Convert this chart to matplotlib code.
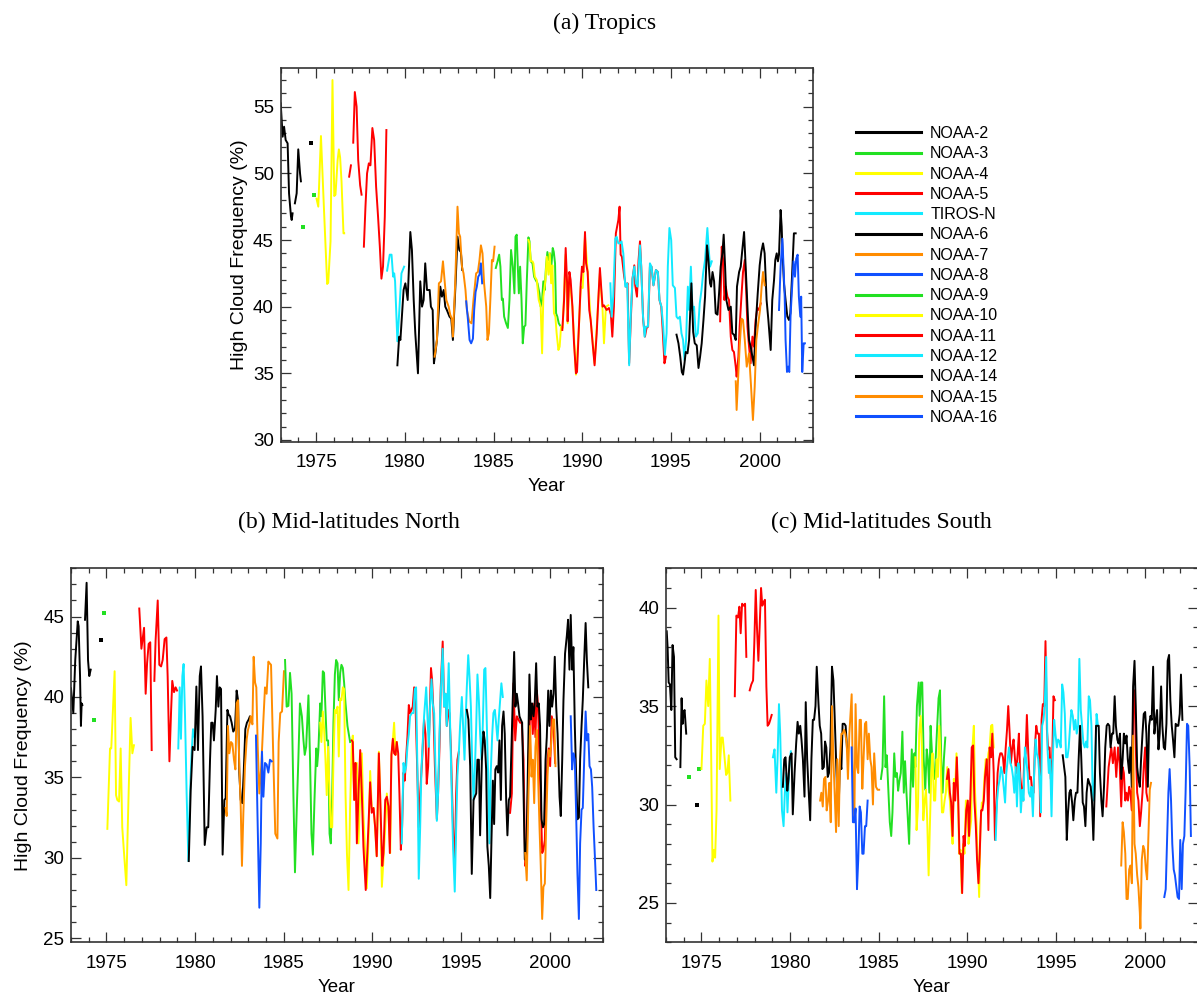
import numpy as np
import matplotlib
matplotlib.use("Agg")
import matplotlib.pyplot as plt
from matplotlib.lines import Line2D
from matplotlib.ticker import MultipleLocator

plt.rcParams['font.family'] = ['Liberation Sans', 'DejaVu Sans']

# satellite names (legend order) and their colours
sats = ["NOAA-2", "NOAA-3", "NOAA-4", "NOAA-5", "TIROS-N", "NOAA-6", "NOAA-7", "NOAA-8",
        "NOAA-9", "NOAA-10", "NOAA-11", "NOAA-12", "NOAA-14", "NOAA-15", "NOAA-16"]
colors = ["black", "#22e022", "#ffff00", "#ff0000", "#12eaff", "black", "#ff8c00", "#1050ff",
          "#22e022", "#ffff00", "#ff0000", "#12eaff", "black", "#ff8c00", "#1050ff"]

# (year, high cloud frequency %), None = gap in the record
# ---------------- (a) Tropics ----------------
a_n2 = [(1973.0, 55.25), (1973.11, 52.75), (1973.19, 53.5), (1973.28, 52.5), (1973.39, 52.25),
        (1973.47, 48.5), (1973.58, 46.75), (1973.62, 46.5), (1973.67, 47.0), None,
        (1973.8, 47.75), (1973.9, 48.5), (1973.99, 51.8), (1974.09, 50.0), (1974.14, 49.4), None,
        (1974.71, 52.25)]
a_n3 = [(1974.27, 45.95), None, (1974.87, 48.4)]
a_n4 = [(1975.02, 48.1), (1975.12, 47.5), (1975.27, 52.8), (1975.45, 47.0), (1975.62, 41.7),
        (1975.68, 41.8), (1975.81, 44.9), (1975.92, 57.0), (1976.02, 48.3), (1976.09, 48.4),
        (1976.21, 51.0), (1976.28, 51.8), (1976.35, 51.2), (1976.43, 49.4), (1976.54, 45.5),
        (1976.58, 45.5)]
a_n5 = [(1976.86, 49.75), (1976.96, 50.6), None, (1977.09, 52.3), (1977.18, 56.1), (1977.28, 55.0),
        (1977.37, 51.0), (1977.48, 49.1), (1977.56, 48.4), None, (1977.69, 44.5), (1977.78, 47.5),
        (1977.87, 50.0), (1977.97, 50.75), (1978.06, 50.6), (1978.17, 53.4), (1978.27, 52.5),
        (1978.38, 49.0), (1978.49, 46.75), (1978.59, 44.5), (1978.68, 42.1), (1978.77, 43.0),
        (1978.87, 46.75), (1978.96, 53.25)]
a_tn = [(1979.0, 42.7), (1979.15, 43.9), (1979.25, 43.9), (1979.34, 42.25), (1979.4, 42.5),
        (1979.45, 41.9), (1979.58, 37.4), (1979.68, 39.5), (1979.81, 42.5), (1979.96, 43.0)]
a_n6 = [(1979.58, 35.6), (1979.68, 37.75), (1979.75, 37.5), (1979.93, 41.25), (1980.03, 41.75),
        (1980.16, 40.5), (1980.31, 45.6), (1980.4, 44.25), (1980.5, 40.5), (1980.59, 38.0),
        (1980.74, 35.0), (1980.87, 41.9), (1980.97, 40.0), (1981.06, 40.5), (1981.15, 43.25),
        (1981.25, 41.25), (1981.4, 41.25), (1981.47, 40.0), (1981.57, 39.75), (1981.64, 35.75),
        (1981.72, 36.5), (1981.81, 37.5), (1982.0, 41.5), (1982.09, 40.75), (1982.19, 41.25),
        (1982.28, 40.0), (1982.37, 39.75), (1982.52, 39.25), (1982.62, 39.1), (1982.71, 37.5),
        (1982.86, 41.75), (1982.97, 45.25), (1983.07, 44.25), (1983.16, 44.1), (1983.24, 42.75)]
a_n7 = [(1981.68, 36.25), (1981.81, 37.5), (1981.92, 41.75), (1982.04, 41.9), (1982.15, 43.4),
        (1982.24, 42.0), (1982.34, 40.5), (1982.47, 40.0), (1982.56, 39.4), (1982.65, 39.1),
        (1982.71, 37.75), (1982.84, 41.75), (1982.97, 47.5), (1983.05, 45.5), (1983.12, 45.25),
        (1983.22, 43.0), (1983.31, 42.5), (1983.42, 41.25), (1983.5, 39.75), (1983.63, 38.9),
        (1983.76, 38.75), (1983.87, 40.5), (1984.02, 42.5), (1984.12, 42.6), (1984.21, 43.5),
        (1984.29, 44.6), (1984.38, 44.0), (1984.47, 41.75), (1984.59, 40.0), (1984.66, 37.5),
        (1984.74, 38.0), (1984.83, 40.75), (1984.91, 43.5), (1984.98, 43.4), (1985.06, 44.5)]
a_n8 = [(1983.46, 40.4), (1983.56, 39.0), (1983.65, 37.5), (1983.74, 37.25), (1983.84, 37.6),
        (1983.91, 39.75), (1983.99, 41.1), (1984.06, 41.5), (1984.14, 42.25), (1984.21, 42.4),
        (1984.29, 43.25), (1984.36, 41.75)]
a_n9 = [(1985.13, 42.9), (1985.23, 43.4), (1985.32, 43.9), (1985.39, 43.0), (1985.47, 40.5),
        (1985.53, 40.6), (1985.6, 39.25), (1985.71, 38.75), (1985.81, 38.4), (1985.9, 40.5),
        (1985.99, 44.25), (1986.09, 43.0), (1986.18, 41.0), (1986.24, 45.25), (1986.31, 45.4),
        (1986.37, 43.0), (1986.43, 41.0), (1986.5, 43.0), (1986.58, 40.5), (1986.65, 37.25),
        (1986.73, 38.5), (1986.8, 38.6), (1986.88, 42.0), (1986.97, 45.2), (1987.03, 44.9),
        (1987.1, 43.4), (1987.2, 43.25), (1987.29, 42.25), (1987.38, 42.0), (1987.48, 41.75),
        (1987.59, 41.0), (1987.66, 40.0), (1987.74, 40.5), (1987.81, 41.9), (1987.89, 41.25),
        (1987.96, 43.0), (1988.04, 44.1), (1988.11, 43.5), (1988.19, 44.0), (1988.26, 43.0),
        (1988.34, 44.4), (1988.4, 44.1), (1988.47, 43.25), (1988.53, 39.5), (1988.6, 39.25),
        (1988.68, 38.75), (1988.75, 38.6)]
a_n10 = [(1986.97, 45.0), (1987.03, 44.75), (1987.1, 43.4), (1987.2, 43.4), (1987.25, 43.25),
         (1987.33, 42.25), (1987.44, 42.0), (1987.55, 40.5), (1987.66, 40.0), (1987.74, 36.5),
         (1987.81, 40.75), (1987.93, 42.0), (1988.0, 43.75), (1988.1, 42.4), (1988.17, 44.0),
         (1988.25, 41.75), (1988.32, 43.1), (1988.41, 39.5), (1988.49, 39.25), (1988.56, 38.0),
         (1988.66, 36.75), (1988.73, 37.0), (1988.81, 38.5), (1988.9, 38.4), (1989.07, 43.9),
         (1989.18, 38.75), (1989.28, 42.25), (1989.45, 40.0), (1989.65, 34.9), (1989.8, 38.0),
         (1989.92, 41.5), (1990.03, 41.4), (1990.16, 45.25), (1990.31, 42.6), (1990.48, 39.0),
         (1990.7, 35.75), (1990.91, 40.5), (1991.0, 42.5), (1991.15, 39.75), (1991.23, 37.25),
         (1991.34, 40.0), (1991.47, 40.1)]
a_n11 = [(1988.88, 38.25), (1988.98, 40.5), (1989.07, 44.4), (1989.15, 41.75), (1989.18, 38.9),
         (1989.28, 42.6), (1989.35, 42.0), (1989.45, 40.0), (1989.54, 37.25), (1989.65, 35.0),
         (1989.71, 35.1), (1989.8, 38.0), (1989.92, 41.75), (1989.99, 43.0), (1990.07, 42.6),
         (1990.16, 45.6), (1990.22, 43.25), (1990.31, 42.6), (1990.4, 39.75), (1990.48, 39.0),
         (1990.59, 37.25), (1990.7, 35.6), (1990.82, 38.0), (1990.91, 40.5), (1991.0, 42.9),
         (1991.07, 41.5), (1991.15, 40.0), (1991.23, 40.1), (1991.38, 39.75), (1991.51, 39.9),
         (1991.62, 39.4), (1991.7, 37.75), (1991.79, 40.0), (1991.9, 45.5), (1992.04, 46.5),
         (1992.11, 47.5), (1992.17, 43.9), (1992.24, 43.75), (1992.37, 42.25), (1992.47, 41.5),
         (1992.56, 41.75), (1992.65, 35.75), (1992.75, 39.25), (1992.84, 42.1), (1992.94, 43.1),
         (1992.99, 41.6), (1993.09, 40.75), (1993.18, 43.5), (1993.26, 44.9), (1993.33, 43.0),
         (1993.44, 39.0), (1993.54, 37.75), (1993.63, 38.4), (1993.72, 38.5), (1993.82, 43.0),
         (1993.91, 43.0), (1994.02, 41.6), (1994.16, 42.75), (1994.27, 42.6), (1994.36, 40.5),
         (1994.46, 40.0), (1994.53, 38.5), (1994.64, 35.75), (1994.72, 36.25), None,
         (1997.78, 38.9), (1997.87, 44.5), (1997.95, 43.5), (1998.02, 40.5), (1998.1, 41.5),
         (1998.19, 40.75), (1998.28, 40.5), (1998.38, 37.75), (1998.47, 36.75), (1998.56, 36.6),
         (1998.66, 35.5), (1998.71, 34.75), (1998.81, 36.25), (1998.88, 38.5), (1998.98, 40.75),
         (1999.07, 42.6), (1999.17, 43.5), (1999.24, 41.5), (1999.32, 38.5), (1999.41, 37.0),
         (1999.5, 35.75), (1999.6, 37.75), (1999.69, 37.0), (1999.78, 39.0), (1999.88, 39.9),
         (1999.97, 39.75), (2000.07, 40.25)]
a_n12 = [(1991.59, 41.75), (1991.66, 39.25), (1991.75, 40.75), (1991.87, 45.1), (1991.94, 45.25),
         (1992.04, 44.75), (1992.13, 44.75), (1992.22, 44.9), (1992.32, 44.0), (1992.43, 41.5),
         (1992.54, 41.75), (1992.65, 35.6), (1992.75, 39.75), (1992.84, 42.1), (1992.94, 43.0),
         (1993.03, 41.75), (1993.12, 41.5), (1993.26, 44.6), (1993.33, 43.0), (1993.42, 39.5),
         (1993.52, 37.75), (1993.59, 38.5), (1993.71, 38.5), (1993.82, 43.25), (1993.91, 43.0),
         (1994.02, 41.6), (1994.16, 42.75), (1994.27, 42.6), (1994.36, 40.5), (1994.47, 40.0),
         (1994.57, 38.5), (1994.66, 36.4), (1994.76, 38.0), (1994.83, 43.0), (1994.92, 45.9),
         (1995.02, 45.0), (1995.11, 41.6), (1995.23, 41.4), (1995.32, 39.25), (1995.41, 39.1),
         (1995.51, 39.25), (1995.6, 38.0), (1995.69, 37.5), (1995.77, 36.0), (1995.86, 37.5),
         (1995.96, 41.5), (1996.03, 39.75), (1996.13, 43.0), (1996.22, 39.75), (1996.31, 40.0),
         (1996.41, 37.75), (1996.52, 38.0), (1996.63, 40.25), (1996.73, 41.25), (1996.82, 42.5),
         (1996.93, 43.5), (1997.06, 45.9), (1997.14, 44.25), (1997.21, 43.0), (1997.31, 43.4)]
a_n14 = [(1995.32, 37.9), (1995.43, 37.25), (1995.53, 36.25), (1995.62, 35.1), (1995.69, 34.9),
         (1995.77, 35.75), (1995.84, 36.6), (1995.94, 36.5), (1996.03, 37.5), (1996.16, 41.75),
         (1996.26, 38.1), (1996.35, 37.25), (1996.46, 37.1), (1996.56, 35.4), (1996.65, 36.25),
         (1996.74, 37.25), (1996.84, 39.0), (1996.93, 40.75), (1997.04, 44.6), (1997.12, 43.5),
         (1997.21, 41.75), (1997.27, 41.5), (1997.35, 42.6), (1997.44, 41.9), (1997.53, 39.5),
         (1997.63, 39.4), (1997.72, 41.0), (1997.81, 43.0), (1997.91, 44.0), (1997.98, 45.4),
         (1998.06, 43.0), (1998.13, 40.5), (1998.25, 39.75), (1998.38, 40.0), (1998.47, 38.0),
         (1998.56, 37.9), (1998.66, 37.5), (1998.73, 41.5), (1998.85, 42.6), (1998.94, 43.0),
         (1999.03, 44.25), (1999.13, 45.6), (1999.22, 43.0), (1999.32, 40.0), (1999.41, 37.5),
         (1999.5, 37.0), (1999.6, 36.25), (1999.69, 35.6), (1999.78, 38.5), (1999.9, 41.0),
         (2000.01, 43.1), (2000.1, 44.1), (2000.2, 44.75), (2000.29, 44.0), (2000.4, 40.5),
         (2000.5, 39.0), (2000.63, 36.75), (2000.72, 40.5), (2000.82, 42.0), (2000.89, 43.5),
         (2000.97, 44.0), (2001.04, 43.4), (2001.1, 43.9), (2001.19, 47.25), (2001.25, 46.0),
         (2001.3, 44.0), (2001.38, 41.75), (2001.47, 40.5), (2001.57, 39.25), (2001.66, 39.0),
         (2001.74, 39.5), (2001.85, 42.75), (2001.94, 45.5), (2002.04, 45.5)]
a_n15 = [(1998.66, 34.4), (1998.71, 32.25), (1998.79, 34.5), (1998.88, 37.0), (1998.98, 39.1),
         (1999.07, 39.0), (1999.17, 37.5), (1999.28, 35.5), (1999.41, 36.5), (1999.52, 34.1),
         (1999.63, 31.5), (1999.73, 34.0), (1999.82, 37.5), (1999.93, 38.75), (2000.03, 39.75),
         (2000.12, 41.5), (2000.2, 42.6), (2000.29, 41.6)]
a_n16 = [(2001.1, 39.75), (2001.19, 43.0), (2001.29, 45.1), (2001.34, 43.5), (2001.42, 40.75),
         (2001.47, 37.5), (2001.55, 35.1), (2001.62, 35.5), (2001.68, 35.1), (2001.75, 39.25),
         (2001.85, 41.75), (2001.92, 43.4), (2002.0, 42.25), (2002.07, 43.6), (2002.15, 43.9),
         (2002.22, 40.75), (2002.3, 39.25), (2002.35, 40.75), (2002.41, 35.1), (2002.49, 37.25),
         (2002.56, 37.25)]

# ---------------- (b) Mid-latitudes North ----------------
b_n2 = [(1973.0, 40.54), (1973.13, 39.0), (1973.24, 42.3), (1973.38, 44.7), (1973.43, 44.4),
        (1973.51, 41.3), (1973.56, 38.2), (1973.6, 39.6), (1973.64, 39.5), None,
        (1973.79, 44.8), (1973.88, 47.1), (1973.96, 42.3), (1974.03, 41.3), (1974.11, 41.7), None,
        (1974.71, 43.55)]
b_n3 = [(1974.3, 38.6), None, (1974.88, 45.2)]
b_n4 = [(1975.05, 31.8), (1975.2, 36.8), (1975.27, 36.8), (1975.46, 41.6), (1975.54, 33.9),
        (1975.61, 33.6), (1975.71, 33.5), (1975.8, 36.8), (1975.89, 31.9), (1975.99, 30.3),
        (1976.12, 28.3), (1976.23, 33.2), (1976.36, 38.7), (1976.46, 36.5), (1976.55, 37.0)]
b_n5 = [(1976.85, 45.5), (1976.97, 43.0), (1977.12, 44.3), (1977.21, 40.2), (1977.29, 42.1),
        (1977.38, 43.3), (1977.47, 43.4), (1977.55, 36.7), None, (1977.7, 41.0), (1977.77, 43.5),
        (1977.89, 46.0), (1977.98, 42.0), (1978.08, 41.9), (1978.17, 42.3), (1978.28, 43.6),
        (1978.38, 43.7), (1978.45, 41.3), (1978.55, 36.0), (1978.64, 39.0), (1978.71, 41.0),
        (1978.81, 40.3), (1978.9, 40.6), (1978.98, 40.4)]
b_tn = [(1979.05, 36.8), (1979.13, 40.6), (1979.2, 37.4), (1979.28, 41.3), (1979.35, 42.05),
        (1979.43, 38.8), (1979.52, 34.0), (1979.62, 29.8), (1979.71, 34.0), (1979.8, 36.5),
        (1979.88, 38.0), (1979.97, 37.5)]
b_n6 = [(1979.64, 29.8), (1979.75, 34.2), (1979.86, 36.9), (1979.97, 36.7), (1980.07, 40.65),
        (1980.16, 36.7), (1980.26, 41.3), (1980.33, 41.9), (1980.42, 38.8), (1980.54, 30.8),
        (1980.65, 31.9), (1980.74, 31.9), (1980.84, 36.1), (1980.91, 38.4), (1980.99, 38.4),
        (1981.06, 37.3), (1981.16, 39.2), (1981.23, 41.3), (1981.31, 39.4), (1981.38, 40.6),
        (1981.46, 40.5), (1981.55, 30.2), (1981.65, 33.6), (1981.72, 33.7), (1981.82, 39.2),
        (1981.89, 38.9), (1981.97, 38.8), (1982.06, 38.4), (1982.15, 37.85), (1982.25, 38.05),
        (1982.34, 40.4), (1982.42, 39.8), (1982.49, 35.3), (1982.57, 33.6), (1982.66, 33.4),
        (1982.74, 35.3), (1982.83, 38.0), (1982.92, 38.4), (1983.02, 38.6), (1983.09, 38.8),
        (1983.19, 38.4)]
b_n7 = [(1981.72, 33.1), (1981.78, 32.6), (1981.85, 38.2), (1981.93, 36.5), (1982.02, 37.2),
        (1982.1, 37.1), (1982.19, 36.1), (1982.27, 35.5), (1982.34, 39.6), (1982.42, 39.8),
        (1982.49, 35.7), (1982.57, 33.2), (1982.64, 29.5), (1982.72, 32.8), (1982.81, 35.7),
        (1982.91, 37.4), (1982.98, 37.95), (1983.06, 38.3), (1983.13, 38.8), (1983.23, 38.3),
        (1983.3, 42.5), (1983.38, 40.9), (1983.45, 40.6), (1983.53, 36.9), (1983.62, 34.0),
        (1983.73, 35.7), (1983.85, 38.6), (1983.94, 40.6), (1984.03, 40.2), (1984.13, 42.2),
        (1984.2, 42.1), (1984.28, 42.0), (1984.41, 36.1), (1984.52, 31.5), (1984.64, 31.2),
        (1984.71, 37.2), (1984.8, 39.0), (1984.9, 39.1), (1985.01, 41.6)]
b_n8 = [(1983.43, 37.6), (1983.51, 33.0), (1983.62, 26.9), (1983.7, 30.9), (1983.77, 36.6),
        (1983.85, 33.8), (1983.94, 35.9), (1984.03, 35.8), (1984.13, 35.3), (1984.22, 36.1),
        (1984.32, 36.0)]
b_n9 = [(1985.07, 42.3), (1985.16, 39.4), (1985.26, 39.45), (1985.35, 41.5), (1985.44, 40.2),
        (1985.54, 34.0), (1985.63, 29.1), (1985.73, 33.0), (1985.82, 36.1), (1985.91, 39.6),
        (1986.02, 38.8), (1986.11, 37.3), (1986.18, 36.4), (1986.26, 36.9), (1986.39, 40.1),
        (1986.48, 36.1), (1986.56, 31.5), (1986.64, 30.2), (1986.73, 33.6), (1986.83, 36.8),
        (1986.88, 35.7), (1986.95, 36.7), (1987.05, 39.6), (1987.12, 38.8), (1987.2, 41.6),
        (1987.27, 41.5), (1987.35, 39.2), (1987.42, 37.3), (1987.5, 37.3), (1987.58, 31.5),
        (1987.65, 30.9), (1987.73, 34.0), (1987.8, 38.4), (1987.88, 41.4), (1987.95, 42.3),
        (1988.03, 42.1), (1988.1, 39.8), (1988.18, 41.5), (1988.25, 42.0), (1988.33, 41.8),
        (1988.4, 40.9), (1988.48, 39.6), (1988.59, 38.2), (1988.74, 37.2)]
b_n10 = [(1987.05, 38.4), (1987.12, 37.2), (1987.2, 39.1), (1987.27, 38.05), (1987.35, 36.1),
         (1987.42, 33.9), (1987.5, 36.9), (1987.58, 34.0), (1987.65, 31.9), (1987.73, 31.9),
         (1987.8, 36.1), (1987.88, 39.2), (1987.95, 39.0), (1988.03, 39.4), (1988.1, 36.3),
         (1988.18, 39.9), (1988.25, 39.8), (1988.33, 40.6), (1988.4, 40.5), (1988.48, 34.0),
         (1988.56, 30.3), (1988.65, 28.0), (1988.74, 33.2), (1988.83, 36.9), (1988.89, 37.6),
         (1988.97, 33.6), (1989.04, 35.9), (1989.12, 35.9), (1989.21, 30.9), (1989.31, 34.0),
         (1989.4, 36.5), (1989.49, 32.7), (1989.59, 30.3), (1989.68, 28.1), (1989.77, 30.9),
         (1989.87, 35.4), (1989.96, 33.1), (1990.06, 33.1), (1990.15, 31.9), (1990.24, 30.1),
         (1990.36, 36.6), (1990.43, 34.0), (1990.53, 28.2), (1990.62, 29.9), (1990.72, 31.9),
         (1990.81, 34.0), (1990.9, 32.8), (1991.0, 30.3), (1991.07, 36.4), (1991.15, 37.3),
         (1991.22, 38.4), (1991.3, 36.4), (1991.37, 37.2)]
b_n11 = [(1988.83, 37.3), (1988.89, 37.2), (1988.97, 33.6), (1989.04, 35.9), (1989.12, 30.9),
         (1989.21, 34.0), (1989.31, 36.7), (1989.4, 34.0), (1989.49, 30.7), (1989.62, 28.0),
         (1989.77, 31.9), (1989.87, 34.7), (1989.96, 32.8), (1990.06, 33.1), (1990.15, 31.9),
         (1990.24, 30.1), (1990.36, 36.5), (1990.43, 34.0), (1990.55, 29.5), (1990.62, 30.3),
         (1990.72, 33.6), (1990.81, 33.8), (1990.9, 33.2), (1990.98, 30.3), (1991.07, 36.4),
         (1991.15, 37.4), (1991.22, 36.5), (1991.3, 36.4), (1991.37, 37.2), (1991.45, 36.5),
         (1991.52, 34.0), (1991.6, 30.5), (1991.67, 31.9), (1991.75, 35.3), (1991.82, 34.8),
         (1991.9, 36.3), (1991.97, 37.5), (1992.05, 39.5), (1992.12, 39.0), (1992.2, 39.2),
         (1992.27, 39.4), (1992.35, 40.6), (1992.42, 39.8), (1992.5, 36.5), (1992.61, 31.9),
         (1992.69, 34.0), (1992.8, 36.1), (1992.91, 38.6), (1992.99, 37.7), (1993.06, 34.6),
         (1993.14, 35.7), (1993.25, 39.8), (1993.3, 41.8), (1993.36, 41.1), (1993.44, 39.0),
         (1993.52, 35.7), (1993.63, 32.4), (1993.7, 34.0), (1993.78, 36.9), (1993.85, 40.6),
         (1993.96, 43.45), (1994.04, 39.4), (1994.12, 40.2), (1994.19, 38.2), (1994.27, 39.2),
         (1994.34, 39.0), (1994.42, 36.9), (1994.49, 34.0), (1994.57, 30.9), (1994.64, 29.5),
         (1994.72, 34.0), (1994.79, 36.1), (1994.87, 36.6), None,
         (1997.76, 32.8), (1997.86, 34.0), (1997.95, 40.85), (1998.05, 37.3), (1998.14, 38.8),
         (1998.23, 38.6), (1998.33, 38.4), (1998.42, 38.4), (1998.52, 36.1), (1998.61, 29.5),
         (1998.7, 29.9), (1998.8, 36.1), (1998.89, 39.0), (1998.97, 39.4), (1999.04, 37.7),
         (1999.12, 39.6), (1999.19, 37.5), (1999.27, 40.4), (1999.34, 39.4), (1999.42, 35.7),
         (1999.49, 33.6), (1999.57, 30.3), (1999.64, 30.5), (1999.72, 31.1), (1999.79, 34.0),
         (1999.87, 36.1), (1999.94, 36.8), (2000.02, 35.7), (2000.11, 38.8), (2000.21, 38.2),
         (2000.3, 35.9)]
b_n12 = [(1991.65, 30.9), (1991.75, 35.9), (1991.82, 35.3), (1991.9, 35.7), (1991.97, 36.9),
         (1992.05, 37.7), (1992.12, 38.8), (1992.22, 39.0), (1992.31, 39.0), (1992.39, 40.5),
         (1992.46, 40.6), (1992.54, 35.1), (1992.61, 28.7), (1992.69, 31.9), (1992.76, 35.5),
         (1992.84, 37.3), (1992.91, 38.8), (1993.03, 40.6), (1993.1, 38.8), (1993.18, 36.9),
         (1993.25, 39.4), (1993.33, 41.1), (1993.4, 39.6), (1993.48, 39.0), (1993.55, 35.7),
         (1993.63, 32.3), (1993.7, 34.0), (1993.78, 37.7), (1993.85, 40.2), (1993.96, 43.0),
         (1994.04, 39.4), (1994.12, 40.2), (1994.19, 38.2), (1994.3, 42.1), (1994.38, 38.2),
         (1994.47, 34.0), (1994.55, 30.5), (1994.64, 27.9), (1994.72, 31.9), (1994.79, 35.1),
         (1994.87, 36.5), (1994.94, 38.2), (1995.04, 40.0), (1995.11, 38.2), (1995.19, 36.1),
         (1995.26, 38.8), (1995.32, 40.6), (1995.4, 42.6), (1995.47, 41.3), (1995.55, 39.4),
         (1995.62, 36.1), (1995.7, 33.6), (1995.77, 35.3), (1995.85, 38.2), (1995.92, 41.4),
         (1996.0, 39.8), (1996.07, 37.7), (1996.15, 36.1), (1996.22, 38.2), (1996.3, 41.7),
         (1996.37, 41.8), (1996.45, 38.2), (1996.52, 35.3), (1996.6, 30.9), (1996.67, 35.3),
         (1996.75, 37.6), (1996.82, 39.0), (1996.9, 39.2), (1996.97, 38.4), (1997.05, 37.3),
         (1997.12, 38.6), (1997.2, 39.8), (1997.27, 40.85), (1997.35, 40.0)]
b_n14 = [(1995.32, 39.2), (1995.41, 38.6), (1995.51, 35.7), (1995.6, 29.0), (1995.7, 33.6),
         (1995.77, 33.8), (1995.85, 34.0), (1995.92, 36.1), (1996.0, 36.1), (1996.07, 31.4),
         (1996.17, 36.1), (1996.26, 37.85), (1996.33, 37.3), (1996.41, 35.5), (1996.48, 30.7),
         (1996.56, 29.5), (1996.64, 27.5), (1996.71, 31.1), (1996.79, 34.8), (1996.86, 32.1),
         (1996.93, 35.5), (1997.01, 35.7), (1997.09, 35.3), (1997.16, 37.3), (1997.24, 33.6),
         (1997.31, 38.2), (1997.39, 39.1), (1997.46, 37.7), (1997.54, 33.6), (1997.61, 31.4),
         (1997.69, 33.6), (1997.76, 33.8), (1997.84, 36.9), (1997.91, 39.8), (1997.99, 42.8),
         (1998.06, 39.4), (1998.14, 40.2), (1998.21, 39.6), (1998.29, 38.8), (1998.36, 38.6),
         (1998.44, 38.4), (1998.52, 34.0), (1998.59, 29.9), (1998.65, 29.9), (1998.7, 31.3),
         (1998.78, 36.5), (1998.85, 41.4), (1998.93, 38.6), (1999.0, 39.6), (1999.08, 38.8),
         (1999.15, 39.6), (1999.23, 42.1), (1999.3, 39.4), (1999.38, 39.6), (1999.45, 38.2),
         (1999.53, 32.4), (1999.61, 31.9), (1999.68, 32.1), (1999.76, 36.1), (1999.83, 37.5),
         (1999.91, 40.4), (1999.98, 38.2), (2000.06, 40.4), (2000.13, 39.4), (2000.21, 40.2),
         (2000.28, 42.5), (2000.36, 39.4), (2000.44, 37.7), (2000.55, 33.8), (2000.62, 32.6),
         (2000.7, 36.1), (2000.77, 39.8), (2000.86, 42.7), (2000.96, 43.8), (2001.03, 44.8),
         (2001.11, 41.7), (2001.18, 45.1), (2001.26, 41.7), (2001.33, 43.1), (2001.41, 38.2),
         (2001.48, 35.3), (2001.56, 32.4), (2001.64, 32.5), (2001.71, 36.1), (2001.79, 38.2),
         (2001.86, 39.8), (2001.94, 42.3), (2002.02, 44.6), (2002.09, 42.3), (2002.17, 40.6)]
b_n15 = [(1998.61, 30.3), (1998.7, 28.6), (1998.8, 34.0), (1998.89, 38.2), (1998.97, 35.05),
         (1999.04, 36.1), (1999.12, 33.4), (1999.19, 36.9), (1999.27, 37.95), (1999.34, 35.05),
         (1999.42, 31.9), (1999.49, 29.5), (1999.57, 26.2), (1999.64, 28.2), (1999.72, 28.4),
         (1999.79, 31.9), (1999.87, 35.05), (1999.94, 36.7), (2000.02, 36.3), (2000.09, 37.3),
         (2000.17, 38.6), (2000.25, 38.6), (2000.32, 35.7)]
b_n16 = [(2001.18, 38.8), (2001.26, 35.5), (2001.33, 36.5), (2001.41, 36.1), (2001.48, 33.0),
         (2001.56, 29.0), (2001.64, 26.2), (2001.71, 30.9), (2001.79, 33.0), (2001.86, 33.1),
         (2001.94, 36.1), (2002.02, 39.1), (2002.09, 37.3), (2002.17, 37.7), (2002.24, 35.7),
         (2002.32, 35.5), (2002.39, 34.4), (2002.47, 31.9), (2002.55, 29.9), (2002.62, 28.0)]

# ---------------- (c) Mid-latitudes South ----------------
c_n2 = [(1973.04, 38.8), (1973.09, 38.0), (1973.15, 36.2), (1973.22, 36.1), (1973.3, 34.8),
        (1973.37, 38.1), (1973.45, 37.5), (1973.52, 32.4), (1973.6, 32.3), None,
        (1973.81, 31.9), (1973.88, 35.4), (1973.94, 34.1), (1973.99, 34.7), (1974.05, 34.8),
        (1974.14, 33.6), None, (1974.72, 30.0)]
c_n3 = [(1974.29, 31.4), None, (1974.87, 31.8)]
c_n4 = [(1975.0, 31.8), (1975.1, 34.0), (1975.19, 34.1), (1975.28, 36.3), (1975.38, 35.0),
        (1975.47, 37.4), (1975.55, 32.3), (1975.62, 27.1), (1975.7, 27.7), (1975.77, 27.3),
        (1975.85, 29.7), (1975.96, 39.6), (1976.03, 31.8), (1976.13, 33.4), (1976.2, 33.4),
        (1976.3, 32.4), (1976.39, 31.5), (1976.46, 31.6), (1976.54, 32.5), (1976.63, 30.2)]
c_n5 = [(1976.88, 35.5), (1976.97, 39.6), (1977.06, 39.5), (1977.14, 40.05), (1977.21, 38.7),
        (1977.29, 40.2), (1977.38, 40.1), (1977.46, 40.2), (1977.53, 37.5), None,
        (1977.72, 35.8), (1977.81, 36.1), (1977.91, 36.3), (1977.98, 38.2), (1978.06, 40.9),
        (1978.13, 39.0), (1978.21, 37.3), (1978.28, 39.0), (1978.36, 41.0), (1978.43, 40.1),
        (1978.51, 40.3), (1978.58, 40.4), (1978.66, 36.0), (1978.73, 34.0), (1978.81, 34.1),
        (1978.88, 34.3), (1978.96, 34.55)]
c_tn = [(1979.03, 32.4), (1979.12, 32.8), (1979.22, 30.6), (1979.29, 32.3), (1979.37, 35.1),
        (1979.44, 33.6), (1979.54, 29.7), (1979.63, 28.9), (1979.7, 30.6), (1979.78, 31.6),
        (1979.85, 29.6), (1979.95, 31.9), (1980.04, 32.7)]
c_n6 = [(1979.59, 30.9), (1979.67, 32.3), (1979.74, 32.4), (1979.84, 30.7), (1979.91, 31.3),
        (1979.98, 32.4), (1980.08, 32.6), (1980.15, 29.5), (1980.25, 31.6), (1980.34, 33.1),
        (1980.42, 34.2), (1980.49, 33.6), (1980.57, 34.0), (1980.64, 33.3), (1980.72, 32.3),
        (1980.81, 30.4), (1980.88, 35.2), (1980.96, 32.3), (1981.05, 30.6), (1981.13, 29.2),
        (1981.2, 32.3), (1981.28, 34.3), (1981.35, 34.3), (1981.43, 35.0), (1981.5, 37.0),
        (1981.6, 35.1), (1981.67, 34.0), (1981.75, 33.6), (1981.82, 31.8), (1981.9, 31.9),
        (1981.97, 33.2), (1982.04, 32.9), (1982.12, 31.4), (1982.19, 31.6), (1982.27, 32.9),
        (1982.36, 37.0), (1982.44, 36.3), (1982.51, 34.5), (1982.59, 32.3), (1982.66, 30.4),
        (1982.74, 29.9), (1982.81, 32.3), (1982.89, 31.8), (1982.96, 34.1), (1983.06, 34.1),
        (1983.13, 34.0), (1983.21, 32.8)]
c_n7 = [(1981.69, 30.2), (1981.76, 30.6), (1981.84, 29.9), (1981.91, 31.3), (1981.99, 31.4),
        (1982.06, 29.7), (1982.14, 30.2), (1982.21, 31.1), (1982.29, 29.1), (1982.36, 35.0),
        (1982.44, 32.3), (1982.51, 30.6), (1982.59, 28.6), (1982.66, 32.3), (1982.74, 28.9),
        (1982.81, 32.3), (1982.89, 33.6), (1982.96, 33.6), (1983.04, 33.8), (1983.11, 33.6),
        (1983.19, 33.1), (1983.26, 31.3), (1983.34, 33.6), (1983.47, 35.6), (1983.52, 32.3),
        (1983.62, 29.1), (1983.69, 35.1), (1983.77, 31.9), (1983.84, 31.6), (1983.92, 34.3),
        (1983.99, 34.3), (1984.07, 30.8), (1984.14, 32.3), (1984.22, 34.1), (1984.29, 34.2),
        (1984.37, 32.3), (1984.44, 33.6), (1984.52, 32.3), (1984.59, 31.9), (1984.67, 30.0),
        (1984.74, 32.6), (1984.84, 30.9), (1984.93, 30.75), (1985.02, 30.75)]
c_n8 = [(1983.47, 32.9), (1983.54, 29.1), (1983.62, 29.1), (1983.69, 29.8), (1983.77, 25.7),
        (1983.84, 27.2), (1983.92, 29.9), (1983.99, 29.6), (1984.07, 27.5), (1984.14, 27.5),
        (1984.22, 28.9), (1984.29, 28.9), (1984.37, 30.2)]
c_n9 = [(1985.12, 31.3), (1985.21, 31.9), (1985.3, 35.5), (1985.38, 31.9), (1985.45, 32.5),
        (1985.53, 30.9), (1985.62, 29.1), (1985.7, 28.4), (1985.77, 29.6), (1985.87, 32.6),
        (1985.94, 31.4), (1986.02, 31.6), (1986.09, 30.7), (1986.16, 31.2), (1986.24, 31.6),
        (1986.33, 33.7), (1986.41, 30.6), (1986.48, 32.2), (1986.56, 30.6), (1986.63, 29.4),
        (1986.71, 28.0), (1986.78, 30.6), (1986.86, 32.8), (1986.93, 30.9), (1987.01, 32.6),
        (1987.06, 31.9), (1987.15, 35.0), (1987.25, 36.2), (1987.3, 34.5), (1987.38, 36.2),
        (1987.45, 36.2), (1987.53, 32.3), (1987.62, 30.75), (1987.7, 32.8), (1987.77, 32.3),
        (1987.85, 30.6), (1987.92, 34.0), (1988.0, 32.6), (1988.07, 31.6), (1988.15, 31.3),
        (1988.22, 32.6), (1988.3, 34.1), (1988.37, 35.4), (1988.45, 35.8), (1988.52, 32.3),
        (1988.6, 30.6), (1988.67, 32.3), (1988.75, 33.4)]
c_n10 = [(1987.06, 32.4), (1987.13, 28.7), (1987.21, 29.9), (1987.28, 33.6), (1987.36, 34.5),
         (1987.43, 32.9), (1987.51, 29.2), (1987.58, 30.1), (1987.66, 30.75), (1987.73, 29.2),
         (1987.81, 26.4), (1987.88, 28.9), (1987.96, 31.6), (1988.03, 32.6), (1988.11, 30.2),
         (1988.18, 30.2), (1988.26, 32.3), (1988.33, 31.4), (1988.41, 34.0), (1988.48, 32.4),
         (1988.56, 29.6), (1988.63, 29.6), (1988.71, 30.2), (1988.78, 30.6), (1988.86, 31.9),
         (1988.93, 30.75), (1989.01, 30.2), (1989.08, 29.2), (1989.16, 28.0), (1989.23, 31.3),
         (1989.31, 30.9), (1989.38, 32.6), (1989.46, 30.6), (1989.53, 27.5), (1989.61, 27.7),
         (1989.68, 25.5), (1989.76, 28.0), (1989.83, 27.5), (1989.91, 30.2), (1989.98, 30.2),
         (1990.06, 28.0), (1990.13, 28.6), (1990.21, 29.2), (1990.28, 32.9), (1990.36, 34.0),
         (1990.43, 30.6), (1990.51, 29.1), (1990.58, 27.2), (1990.66, 25.3), (1990.73, 28.9),
         (1990.81, 30.1), (1990.88, 30.1), (1990.96, 31.4), (1991.03, 32.3), (1991.1, 31.9),
         (1991.18, 32.6), (1991.25, 32.9), (1991.33, 34.0), (1991.4, 34.05), (1991.48, 32.9)]
c_n11 = [(1988.84, 31.3), (1988.93, 31.8), (1989.01, 30.6), (1989.08, 30.1), (1989.16, 28.4),
         (1989.23, 31.1), (1989.31, 30.2), (1989.4, 32.4), (1989.48, 30.2), (1989.55, 27.5),
         (1989.63, 27.5), (1989.7, 25.5), (1989.78, 28.4), (1989.85, 27.9), (1989.93, 29.7),
         (1990.02, 30.2), (1990.09, 28.4), (1990.17, 30.6), (1990.24, 32.9), (1990.32, 33.0),
         (1990.39, 30.2), (1990.47, 28.9), (1990.54, 27.2), (1990.62, 26.0), (1990.69, 27.5),
         (1990.77, 29.7), (1990.84, 29.7), (1990.92, 30.2), (1990.99, 31.4), (1991.09, 32.3),
         (1991.18, 28.7), (1991.25, 32.9), (1991.33, 32.4), (1991.4, 33.6), (1991.48, 31.6),
         (1991.55, 28.2), (1991.63, 29.9), (1991.7, 31.6), (1991.78, 32.3), (1991.85, 32.6),
         (1991.93, 32.6), (1992.0, 32.4), (1992.08, 31.6), (1992.15, 32.8), (1992.23, 33.8),
         (1992.3, 35.0), (1992.38, 33.6), (1992.45, 32.1), (1992.53, 32.9), (1992.6, 33.3),
         (1992.68, 32.3), (1992.75, 31.6), (1992.83, 32.6), (1992.9, 33.6), (1992.98, 31.4),
         (1993.05, 30.75), (1993.13, 30.2), (1993.2, 32.3), (1993.28, 32.6), (1993.35, 34.55),
         (1993.43, 32.6), (1993.5, 31.3), (1993.58, 31.4), (1993.65, 30.6), (1993.73, 30.6),
         (1993.8, 32.9), (1993.88, 34.0), (1993.95, 33.6), (1994.03, 33.6), (1994.1, 29.4),
         (1994.18, 34.3), (1994.25, 35.1), (1994.33, 35.0), (1994.4, 38.3), (1994.48, 33.8),
         (1994.55, 32.8), (1994.63, 32.9), (1994.7, 31.3), (1994.78, 32.3), (1994.85, 35.5),
         (1994.93, 35.3), None,
         (1997.83, 29.9), (1997.96, 31.9), (1998.11, 32.9), (1998.2, 32.1), (1998.3, 32.9),
         (1998.39, 31.4), (1998.49, 32.9), (1998.58, 32.1), (1998.67, 29.9), (1998.75, 31.9),
         (1998.82, 31.6), (1998.9, 30.2), (1998.97, 30.6), (1999.05, 30.2), (1999.12, 30.9),
         (1999.19, 30.6), (1999.27, 29.7), (1999.34, 34.8), (1999.42, 35.8), (1999.49, 32.9),
         (1999.57, 30.6), (1999.64, 30.2), (1999.72, 28.9), (1999.79, 29.6), (1999.87, 30.6),
         (1999.94, 31.9), (2000.02, 32.9), (2000.09, 30.6), (2000.17, 30.2)]
c_n12 = [(1991.59, 28.2), (1991.67, 30.2), (1991.74, 30.9), (1991.82, 31.3), (1991.89, 31.9),
         (1991.97, 31.6), (1992.04, 30.9), (1992.12, 30.1), (1992.19, 31.6), (1992.27, 32.3),
         (1992.34, 32.9), (1992.42, 32.1), (1992.49, 31.9), (1992.57, 31.4), (1992.64, 30.6),
         (1992.72, 31.9), (1992.79, 29.9), (1992.87, 32.1), (1992.94, 31.6), (1993.01, 29.6),
         (1993.09, 30.75), (1993.16, 30.2), (1993.24, 32.9), (1993.31, 32.3), (1993.39, 31.6),
         (1993.46, 30.6), (1993.54, 30.4), (1993.61, 30.9), (1993.69, 29.4), (1993.76, 31.6),
         (1993.84, 33.3), (1993.91, 32.6), (1993.99, 32.3), (1994.06, 31.4), (1994.14, 29.6),
         (1994.21, 34.0), (1994.29, 34.3), (1994.36, 35.1), (1994.44, 37.5), (1994.51, 32.9),
         (1994.59, 31.6), (1994.66, 32.3), (1994.74, 29.4), (1994.81, 32.3), (1994.89, 34.3),
         (1994.96, 33.6), (1995.04, 32.9), (1995.11, 33.3), (1995.19, 33.2), (1995.26, 32.9),
         (1995.34, 36.1), (1995.41, 35.7), (1995.49, 34.6), (1995.56, 32.4), (1995.64, 32.4),
         (1995.71, 32.9), (1995.79, 34.0), (1995.86, 34.8), (1995.94, 34.5), (1996.01, 33.8),
         (1996.09, 34.3), (1996.16, 33.6), (1996.24, 34.0), (1996.31, 37.4), (1996.39, 34.8),
         (1996.46, 34.0), (1996.54, 33.1), (1996.61, 32.9), (1996.69, 33.2), (1996.76, 32.9),
         (1996.84, 35.5), (1996.91, 35.3), (1996.99, 34.0), (1997.06, 30.6), (1997.13, 30.2),
         (1997.21, 32.3), (1997.28, 34.6), (1997.36, 34.0)]
c_n14 = [(1995.37, 32.5), (1995.45, 31.9), (1995.52, 31.4), (1995.6, 28.2), (1995.67, 29.6),
         (1995.75, 30.6), (1995.82, 30.75), (1995.9, 30.1), (1995.97, 29.2), (1996.05, 30.2),
         (1996.12, 30.6), (1996.2, 30.6), (1996.27, 32.3), (1996.35, 34.0), (1996.42, 32.3),
         (1996.5, 30.1), (1996.57, 29.9), (1996.65, 28.9), (1996.72, 30.6), (1996.8, 31.3),
         (1996.87, 31.1), (1996.95, 30.9), (1997.02, 30.2), (1997.1, 28.2), (1997.17, 30.6),
         (1997.25, 34.0), (1997.32, 34.0), (1997.4, 34.0), (1997.47, 31.6), (1997.55, 30.2),
         (1997.62, 29.4), (1997.7, 30.9), (1997.77, 32.9), (1997.85, 34.0), (1997.92, 34.1),
         (1998.0, 34.0), (1998.07, 32.9), (1998.15, 33.6), (1998.22, 33.6), (1998.3, 35.5),
         (1998.37, 34.0), (1998.45, 33.3), (1998.52, 33.1), (1998.6, 33.6), (1998.67, 31.3),
         (1998.75, 32.3), (1998.82, 33.6), (1998.9, 33.1), (1998.97, 33.5), (1999.04, 32.3),
         (1999.12, 31.6), (1999.19, 32.9), (1999.27, 30.9), (1999.34, 36.0), (1999.42, 37.3),
         (1999.49, 35.0), (1999.57, 31.9), (1999.64, 31.3), (1999.72, 30.9), (1999.79, 32.3),
         (1999.87, 33.6), (1999.94, 34.6), (2000.02, 34.7), (2000.09, 33.6), (2000.17, 30.9),
         (2000.24, 34.0), (2000.32, 34.5), (2000.39, 34.3), (2000.47, 37.0), (2000.54, 33.6),
         (2000.62, 34.3), (2000.69, 34.8), (2000.77, 32.8), (2000.84, 33.6), (2000.92, 36.0),
         (2000.99, 34.0), (2001.07, 32.9), (2001.14, 32.8), (2001.22, 34.1), (2001.29, 37.3),
         (2001.37, 37.6), (2001.44, 35.3), (2001.52, 34.0), (2001.59, 33.3), (2001.67, 32.4),
         (2001.74, 34.1), (2001.82, 34.0), (2001.89, 34.0), (2001.97, 34.6), (2002.04, 36.6),
         (2002.12, 34.3)]
c_n15 = [(1998.67, 26.9), (1998.75, 29.1), (1998.82, 28.6), (1998.9, 27.5), (1998.97, 25.2),
         (1999.04, 25.2), (1999.12, 26.7), (1999.19, 26.9), (1999.27, 26.0), (1999.34, 33.5),
         (1999.42, 28.0), (1999.49, 27.5), (1999.57, 26.4), (1999.64, 25.8), (1999.72, 24.5),
         (1999.75, 23.7), (1999.83, 27.2), (1999.91, 27.9), (1999.98, 27.7), (2000.06, 26.7),
         (2000.13, 26.2), (2000.21, 28.6), (2000.28, 30.75), (2000.35, 31.1)]
c_n16 = [(2001.1, 25.3), (2001.18, 25.7), (2001.25, 28.0), (2001.33, 30.6), (2001.4, 31.8),
         (2001.48, 30.2), (2001.55, 28.0), (2001.63, 26.7), (2001.7, 26.4), (2001.78, 25.8),
         (2001.85, 25.3), (2001.93, 25.2), (2002.0, 28.2), (2002.08, 25.7), (2002.15, 28.0),
         (2002.23, 28.4), (2002.3, 30.6), (2002.38, 34.1), (2002.45, 34.0), (2002.53, 31.9),
         (2002.6, 28.4)]

trop = [a_n2, a_n3, a_n4, a_n5, a_tn, a_n6, a_n7, a_n8, a_n9, a_n10, a_n11, a_n12, a_n14, a_n15, a_n16]
north = [b_n2, b_n3, b_n4, b_n5, b_tn, b_n6, b_n7, b_n8, b_n9, b_n10, b_n11, b_n12, b_n14, b_n15, b_n16]
south = [c_n2, c_n3, c_n4, c_n5, c_tn, c_n6, c_n7, c_n8, c_n9, c_n10, c_n11, c_n12, c_n14, c_n15, c_n16]


def segments(series):
    seg = []
    for p in series:
        if p is None:
            if seg:
                yield seg
            seg = []
        else:
            seg.append(p)
    if seg:
        yield seg


def draw_panel(ax, data, ylim, yticks):
    for series, col in zip(data, colors):
        for seg in segments(series):
            t = [p[0] for p in seg]
            v = [p[1] for p in seg]
            if len(seg) == 1:
                ax.plot(t, v, 's', color=col, ms=2.8, mew=0)
            else:
                ax.plot(t, v, '-', color=col, lw=1.4)
    ax.set_xlim(1973, 2003)
    ax.set_ylim(*ylim)
    ax.set_xticks([1975, 1980, 1985, 1990, 1995, 2000])
    ax.xaxis.set_minor_locator(MultipleLocator(1))
    ax.set_yticks(yticks)
    ax.yaxis.set_minor_locator(MultipleLocator(1))
    ax.tick_params(which='both', direction='in', top=True, right=True, width=0.9, color='#333333')
    ax.tick_params(which='major', length=7, labelsize=13.5)
    ax.tick_params(which='minor', length=3.5)
    ax.tick_params(axis='x', pad=9)
    ax.tick_params(axis='y', pad=5)
    for s in ax.spines.values():
        s.set_linewidth(1.2)
        s.set_color('#333333')
    ax.set_xlabel('Year', fontsize=13.5)
    ax.xaxis.set_label_coords(0.5, -0.098)


W, H = 1197, 997
fig = plt.figure(figsize=(W / 100, H / 100), dpi=100)
ax_a = fig.add_axes([280.7 / W, 1 - 441.7 / H, 532 / W, 373.4 / H])
ax_b = fig.add_axes([71 / W, 1 - 942.3 / H, 532 / W, 374 / H])
ax_c = fig.add_axes([666 / W, 1 - 942.3 / H, 532 / W, 374 / H])

draw_panel(ax_a, trop, (29.87, 57.88), [30, 35, 40, 45, 50, 55])
draw_panel(ax_b, north, (24.75, 48.0), [25, 30, 35, 40, 45])
draw_panel(ax_c, south, (23.0, 42.0), [25, 30, 35, 40])

for ax, xl in [(ax_a, -0.062), (ax_b, -0.073)]:
    ax.set_ylabel('High Cloud Frequency (%)', fontsize=14)
    ax.yaxis.set_label_coords(xl, 0.5)

handles = [Line2D([], [], color=c, lw=2.2) for c in colors]
fig.legend(handles, sats, loc='upper left', bbox_to_anchor=(855.7 / W, 1 - 126 / H),
           frameon=False, fontsize=11.5, handlelength=4.1, handletextpad=0.56,
           labelspacing=0.33, borderpad=0, borderaxespad=0)

serif = ['Liberation Serif', 'DejaVu Serif']
fig.text(605 / W, 1 - 23 / H, '(a) Tropics', ha='center', va='center', fontsize=17, family=serif)
fig.text(349 / W, 1 - 522 / H, '(b) Mid-latitudes North', ha='center', va='center', fontsize=17, family=serif)
fig.text(881 / W, 1 - 522 / H, '(c) Mid-latitudes South', ha='center', va='center', fontsize=17, family=serif)

fig.savefig('out.png', dpi=100)
